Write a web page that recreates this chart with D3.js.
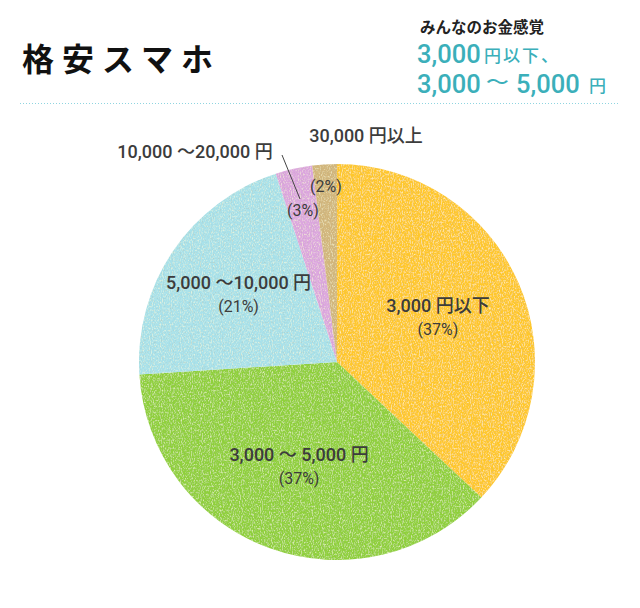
<!DOCTYPE html>
<html><head><meta charset="utf-8">
<script src="https://cdn.jsdelivr.net/npm/d3@7"></script>
<style>body{margin:0;background:#fff}svg{display:block}</style>
</head><body>
<script>
const categories = ["3,000 円以下", "3,000 〜 5,000 円", "5,000 〜10,000 円", "10,000 〜20,000 円", "30,000 円以上"];
const values = [37, 37, 21, 3, 2];
const percentLabels = ["(37%)", "(37%)", "(21%)", "(3%)", "(2%)"];
const colors = ["#FFC82C", "#8FD03B", "#A8E1EA", "#DCA6DF", "#D2B67B"];

const W = 640, H = 608, cx = 337, cy = 362, R = 198;
const svg = d3.select("body").append("svg").attr("width", W).attr("height", H);
const defs = svg.append("defs");
const f = defs.append("filter").attr("id","tex").attr("x",0).attr("y",0).attr("width","100%").attr("height","100%");
f.append("feTurbulence").attr("type","fractalNoise").attr("baseFrequency","0.9 0.5").attr("numOctaves",2).attr("seed",4).attr("result","n");
f.append("feColorMatrix").attr("in","n").attr("type","matrix")
  .attr("values","0 0 0 0 1  0 0 0 0 1  0 0 0 0 0.7  1.6 0 0 0 -0.75").attr("result","w");
f.append("feComposite").attr("in","w").attr("in2","SourceGraphic").attr("operator","in").attr("result","wm");
f.append("feColorMatrix").attr("in","n").attr("type","matrix")
  .attr("values","0 0 0 0 0.45  0 0 0 0 0.45  0 0 0 0 0.3  0 1.2 0 0 -0.64").attr("result","d");
f.append("feComposite").attr("in","d").attr("in2","SourceGraphic").attr("operator","in").attr("result","dm");
const m = f.append("feMerge"); m.append("feMergeNode").attr("in","SourceGraphic"); m.append("feMergeNode").attr("in","wm"); m.append("feMergeNode").attr("in","dm");

const font = "Roboto, 'Noto Sans CJK JP', sans-serif";
const jp = "'Noto Sans CJK JP', sans-serif";
const teal = "#3BAFBA";

// Header
svg.append("text").attr("x",22).attr("y",71).attr("font-family",jp).attr("font-weight",700)
  .attr("font-size",32).attr("letter-spacing",8).attr("fill","#111").text("格安スマホ");
svg.append("text").attr("x",420).attr("y",33).attr("font-family",jp).attr("font-weight",700)
  .attr("font-size",15.5).attr("fill","#222").text("みんなのお金感覚");
const hdr = svg.append("g").attr("fill",teal).attr("font-weight",500);
hdr.append("text").attr("x",417).attr("y",63).attr("font-family",font).attr("font-size",25.5).text("3,000");
hdr.append("text").attr("x",484).attr("y",62).attr("font-family",jp).attr("font-size",17).attr("letter-spacing",2).text("円以下、");
hdr.append("text").attr("x",417).attr("y",93).attr("font-family",font).attr("font-size",25.5).text("3,000");
hdr.append("text").attr("transform","translate(486,89) scale(1.2,1)").attr("font-family",jp).attr("font-size",19).text("〜");
hdr.append("text").attr("x",516).attr("y",93).attr("font-family",font).attr("font-size",25.5).text("5,000");
hdr.append("text").attr("x",589).attr("y",92).attr("font-family",jp).attr("font-size",17).text("円");
svg.append("line").attr("x1",20).attr("x2",620).attr("y1",103.5).attr("y2",103.5)
  .attr("stroke","#8FD5E0").attr("stroke-width",1).attr("stroke-dasharray","1 2");

// Pie
const pie = d3.pie().sort(null).value(d=>d)(values);
const arc = d3.arc().innerRadius(0).outerRadius(R);
const g = svg.append("g").attr("transform",`translate(${cx},${cy})`);
g.selectAll("path").data(pie).join("path").attr("d",arc).attr("fill",(d,i)=>colors[i]).attr("filter","url(#tex)");

// Labels
const labelR = [110, 112, 119, 156, 176];
const lab = svg.append("g").attr("font-family",font).attr("fill","#3c3c3c").attr("text-anchor","middle");
pie.forEach((d,i)=>{
  const c = d3.arc().innerRadius(labelR[i]).outerRadius(labelR[i]).centroid(d);
  const x = cx + c[0], y = cy + c[1];
  if (i < 3) {
    lab.append("text").attr("x",x).attr("y",y-6).attr("font-size",18).attr("font-weight",500).text(categories[i]);
    lab.append("text").attr("x",x).attr("y",y+17).attr("font-size",16).text(percentLabels[i]);
  } else {
    lab.append("text").attr("x",x).attr("y",y+6).attr("font-size",16).text(percentLabels[i]);
  }
});
lab.append("text").attr("x",195).attr("y",158).attr("font-size",18).attr("font-weight",500).text(categories[3]);
lab.append("text").attr("x",366).attr("y",142).attr("font-size",18).attr("font-weight",500).text(categories[4]);
svg.append("line").attr("x1",282).attr("y1",155).attr("x2",300).attr("y2",199).attr("stroke","#444").attr("stroke-width",1);
</script>
</body></html>
